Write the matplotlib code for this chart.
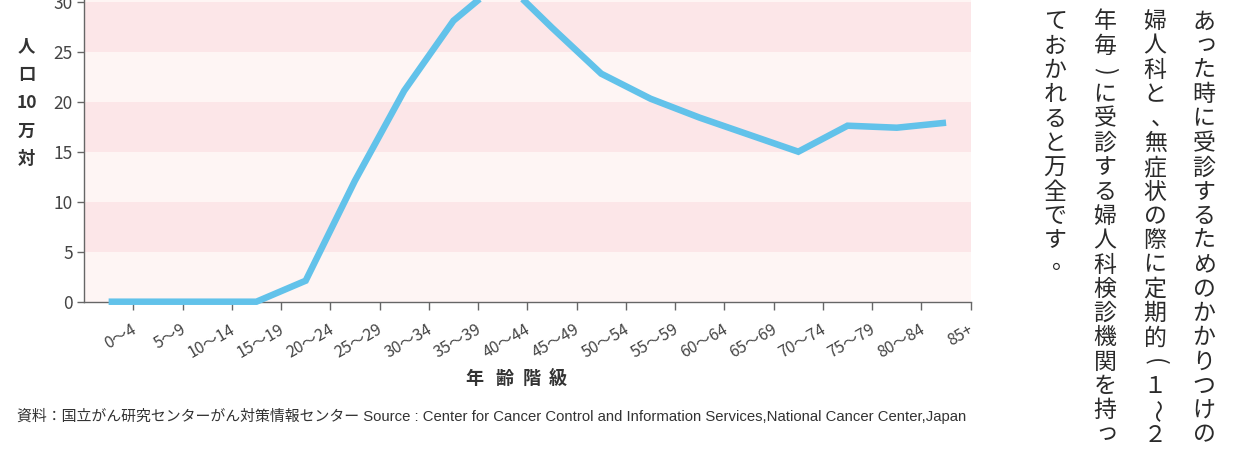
import matplotlib
matplotlib.use("Agg")
import matplotlib.pyplot as plt
import matplotlib.transforms as mtransforms

plt.rcParams['font.family'] = ['Noto Sans CJK JP', 'DejaVu Sans']

# ---- data ----
age_labels = ['0〜4', '5〜9', '10〜14', '15〜19', '20〜24', '25〜29', '30〜34',
              '35〜39', '40〜44', '45〜49', '50〜54', '55〜59', '60〜64',
              '65〜69', '70〜74', '75〜79', '80〜84', '85+']
rates = [0.0, 0.0, 0.0, 0.0, 2.1, 12.1, 21.1, 28.1, 32.2, 27.4, 22.8, 20.3,
         18.4, 16.7, 15.0, 17.6, 17.4, 17.9]
y_ticks = [0, 5, 10, 15, 20, 25, 30]
y_label_parts = ['人', '口', '10', '万', '対']
x_label_parts = ['年', '齢', '階', '級']
source_text = ('資料：国立がん研究センターがん対策情報センター Source : Center for Cancer '
               'Control and Information Services,National Cancer Center,Japan')
side_columns = ['あった時に受診するためのかかりつけの',
                '婦人科と、無症状の際に定期的(１〜２',
                '年毎)に受診する婦人科検診機関を持っ',
                'ておかれると万全です。']

W, H = 1258, 450
fig = plt.figure(figsize=(W / 100, H / 100), dpi=100)
fig.patch.set_facecolor('white')

# axes geometry (pixels)
x_left, x_right = 84.0, 970.7
y_zero = 301.7           # pixel row of y=0 (from top)
px_per_unit = 10.0
ymax = 35
ax_h = ymax * px_per_unit
ax = fig.add_axes([x_left / W, (H - y_zero) / H, (x_right - x_left) / W, ax_h / H])

n = len(rates)
ax.set_xlim(-0.5, n - 0.5)
ax.set_ylim(0, ymax)

# background bands
band_pink = '#fce6e8'
band_light = '#fef5f4'
for lo in range(0, ymax, 5):
    ax.axhspan(lo, lo + 5, color=band_pink if (lo // 5) % 2 == 1 else band_light,
               lw=0, zorder=0)

ax.plot(range(n), rates, color='#62c2ea', lw=4.7, solid_capstyle='butt',
        solid_joinstyle='miter', zorder=3, clip_on=False)

for s in ['top', 'right']:
    ax.spines[s].set_visible(False)
for s in ['left', 'bottom']:
    ax.spines[s].set_color('#666666')
    ax.spines[s].set_linewidth(1.0)

ax.set_yticks(y_ticks)
ax.set_yticklabels([str(v) for v in y_ticks])
ax.tick_params(axis='y', length=5, width=1.0, color='#666666', pad=3,
               labelsize=12.5, labelcolor='#444444')

ax.set_xticks([i + 0.5 for i in range(n)])
ax.set_xticklabels(age_labels, rotation=30, ha='right', va='top')
ax.tick_params(axis='x', length=6, width=1.0, color='#666666', pad=8,
               labelsize=11.5, labelcolor='#444444')
offset = mtransforms.ScaledTranslation(6 / 100, 0, fig.dpi_scale_trans)
for lab in ax.get_xticklabels():
    lab.set_transform(lab.get_transform() + offset)

# y label (stacked vertically)
ylab_y = [46.7, 75, 103, 132, 159]
for txt, yy in zip(y_label_parts, ylab_y):
    fig.text(26.7 / W, 1 - yy / H, txt, ha='center', va='center',
             fontsize=12.5, fontweight='bold', color='#333333')

# x label
xlab_x = [474, 504, 532, 558]
for txt, xx in zip(x_label_parts, xlab_x):
    fig.text(xx / W, 1 - 378 / H, txt, ha='center', va='center',
             fontsize=13, fontweight='bold', color='#333333')

# source
fig.text(16.7 / W, 1 - 416 / H, source_text, ha='left', va='center',
         fontsize=10.75, color='#333333',
         family=['Liberation Sans', 'Noto Sans CJK JP'])

# right-side vertical text
col_x = [1204, 1155, 1105, 1055]
y0, dy = 22.0, 24.3
rotate_chars = {'(', ')', '〜'}
shifts = {'っ': (2, -3), '、': (7, -1), '。': (7, -4)}
for cx, col in zip(col_x, side_columns):
    for j, ch in enumerate(col):
        ddx, ddy = shifts.get(ch, (0, 0))
        rot = -90 if ch in rotate_chars else 0
        fig.text((cx + ddx) / W, 1 - (y0 + j * dy + ddy) / H, ch,
                 ha='center', va='center', fontsize=16.5, color='#2a2a2a',
                 rotation=rot)

fig.savefig('out.png', dpi=100, facecolor='white')
